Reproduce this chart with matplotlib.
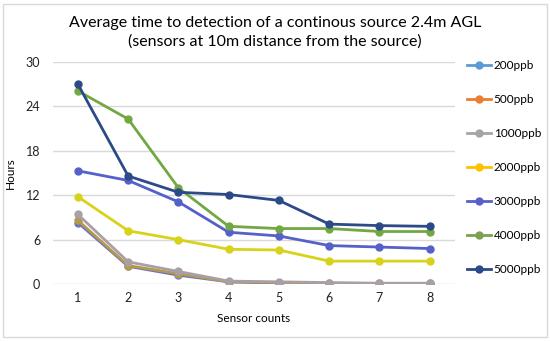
import numpy as np
import matplotlib.pyplot as plt
from matplotlib.lines import Line2D
from matplotlib.patches import Rectangle

plt.rcParams['font.family'] = ['Lato', 'DejaVu Sans']

sensor_counts = [1, 2, 3, 4, 5, 6, 7, 8]
labels = ['200ppb', '500ppb', '1000ppb', '2000ppb', '3000ppb', '4000ppb', '5000ppb']

h200 = [8.3, 2.4, 1.2, 0.3, 0.1, 0.0, 0.0, 0.0]
h500 = [8.6, 2.5, 1.4, 0.3, 0.2, 0.1, 0.1, 0.1]
h1000 = [9.4, 3.0, 1.7, 0.4, 0.3, 0.2, 0.1, 0.1]
h2000 = [11.8, 7.2, 6.0, 4.7, 4.6, 3.1, 3.1, 3.1]
h3000 = [15.3, 14.0, 11.1, 7.0, 6.5, 5.2, 5.0, 4.8]
h4000 = [26.1, 22.3, 13.0, 7.8, 7.5, 7.5, 7.1, 7.1]
h5000 = [27.0, 14.6, 12.4, 12.1, 11.3, 8.1, 7.9, 7.8]

series = [h200, h500, h1000, h2000, h3000, h4000, h5000]

# colours as they look on the lines / in the legend
line_colors = ['#6a72c8', '#b49a4a', '#a8a0a6', '#d8d21a', '#5561c8', '#72a843', '#2c4a88']
legend_colors = ['#5b9bd5', '#ed7d31', '#a5a5a5', '#ffc000', '#5a5fc8', '#7aa050', '#2b4a8a']

fig = plt.figure(figsize=(5.5, 3.41), dpi=100)
ax = fig.add_axes([0.096, 0.167, 0.731, 0.651])

for vals, c in zip(series, line_colors):
    ax.plot(sensor_counts, vals, '-o', color=c, lw=2, markersize=5)

ax.set_xlim(0.5, 8.5)
ax.set_ylim(0, 30)
ax.set_yticks([0, 6, 12, 18, 24, 30])
ax.set_xticks(sensor_counts)
ax.grid(axis='y', color='#d9d9d9', lw=1)
ax.set_axisbelow(True)
for s in ax.spines.values():
    s.set_visible(False)
ax.tick_params(length=0, labelsize=9, colors='#222222', pad=9)
ax.tick_params(axis='x', pad=6)
ax.set_xlabel('Sensor counts', fontsize=8.5, labelpad=6)
ax.set_ylabel('Hours', fontsize=8.5, labelpad=7)

fig.text(0.5, 0.905, 'Average time to detection of a continous source 2.4m AGL\n(sensors at 10m distance from the source)',
         ha='center', va='center', fontsize=11.5, linespacing=1.45)

handles = [Line2D([], [], color=c, lw=2, marker='o', markersize=5) for c in legend_colors]
fig.legend(handles, labels, loc='upper left', bbox_to_anchor=(0.83, 0.855), frameon=False,
           fontsize=8.5, labelspacing=1.95, handlelength=2.0, handletextpad=0.25)

fig.patches.append(Rectangle((0.006, 0.012), 0.988, 0.976, transform=fig.transFigure,
                             fill=False, edgecolor='#d9d9d9', lw=1))

fig.savefig('out.png', dpi=100)
